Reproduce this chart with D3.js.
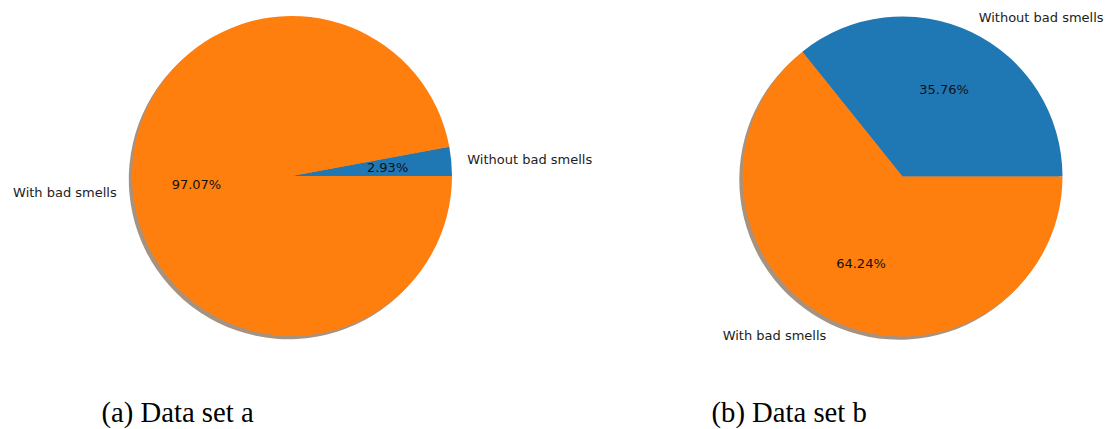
<!DOCTYPE html>
<html>
<head>
<meta charset="utf-8">
<script src="https://cdn.jsdelivr.net/npm/d3@7/dist/d3.min.js"></script>
<style>
  html, body { margin: 0; padding: 0; background: #fff; }
  svg { display: block; }
</style>
</head>
<body>
<svg id="chart" width="1115" height="429"></svg>
<script>
// Share of code entities with and without bad smells, per data set
const categories = ["Without bad smells", "With bad smells"];
const valuesA = [2.93, 97.07];
const valuesB = [35.76, 64.24];
const captions = ["(a) Data set a", "(b) Data set b"];
const colors = ["#1f77b4", "#ff7f0e"];

const svg = d3.select("#chart");
const R = 160;

const panels = [
  { values: valuesA, cx: 292, cy: 176, caption: captions[0], capX: 101.5 },
  { values: valuesB, cx: 902.5, cy: 176.5, caption: captions[1], capX: 711.5 }
];

// Wedges start at 3 o'clock and run counter-clockwise
const pie = d3.pie()
  .sort(null)
  .startAngle(Math.PI / 2)
  .endAngle(Math.PI / 2 - 2 * Math.PI);

const arc = d3.arc().innerRadius(0).outerRadius(R);
const labelArc = d3.arc().innerRadius(R * 1.1).outerRadius(R * 1.1);
const pctArc = d3.arc().innerRadius(R * 0.6).outerRadius(R * 0.6);

const shadowColor = c => {
  const k = d3.rgb(c);
  return d3.rgb(k.r * 0.3, k.g * 0.3, k.b * 0.3).toString();
};

panels.forEach(p => {
  const arcs = pie(p.values);
  const g = svg.append("g").attr("transform", `translate(${p.cx},${p.cy})`);

  // drop shadow, offset down-left
  g.append("g")
    .attr("transform", `translate(${-0.02 * R},${0.02 * R})`)
    .selectAll("path")
    .data(arcs)
    .join("path")
    .attr("d", arc)
    .attr("fill", (d, i) => shadowColor(colors[i]))
    .attr("fill-opacity", 0.5);

  g.append("g")
    .selectAll("path")
    .data(arcs)
    .join("path")
    .attr("d", arc)
    .attr("fill", (d, i) => colors[i]);

  // category labels outside the pie
  g.append("g")
    .selectAll("text")
    .data(arcs)
    .join("text")
    .attr("transform", d => `translate(${labelArc.centroid(d)})`)
    .attr("text-anchor", d => labelArc.centroid(d)[0] > 0 ? "start" : "end")
    .attr("dominant-baseline", "central")
    .attr("font-family", "DejaVu Sans")
    .attr("font-size", 13)
    .attr("fill", "#222")
    .text((d, i) => categories[i]);

  // percentage labels inside
  g.append("g")
    .selectAll("text")
    .data(arcs)
    .join("text")
    .attr("transform", d => `translate(${pctArc.centroid(d)})`)
    .attr("text-anchor", "middle")
    .attr("dominant-baseline", "central")
    .attr("font-family", "DejaVu Sans")
    .attr("font-size", 13)
    .attr("fill", "#111")
    .text(d => d.data.toFixed(2) + "%");

  svg.append("text")
    .attr("x", p.capX)
    .attr("y", 421.5)
    .attr("font-family", "Liberation Serif")
    .attr("font-size", 28.7)
    .attr("fill", "#000")
    .text(p.caption);
});
</script>
</body>
</html>
